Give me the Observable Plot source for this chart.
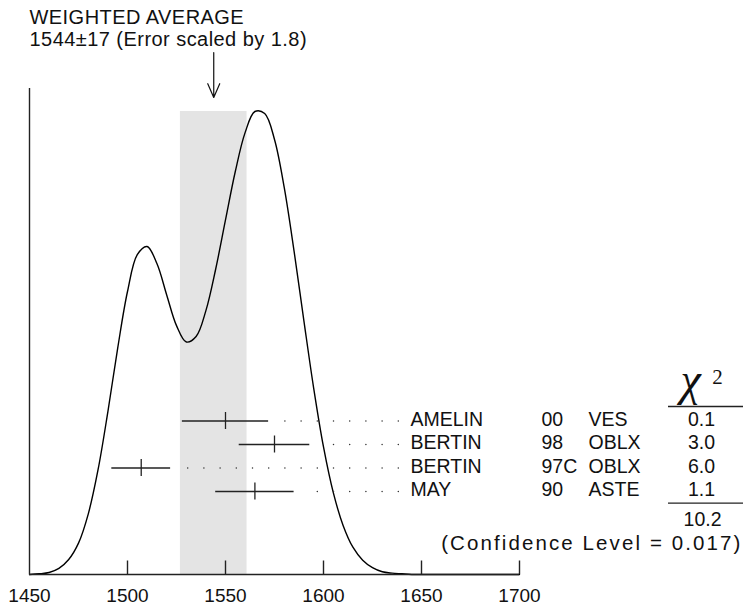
<!DOCTYPE html>
<html><head><meta charset="utf-8">
<script src="https://cdn.jsdelivr.net/npm/d3@7"></script>
<script src="https://cdn.jsdelivr.net/npm/@observablehq/plot@0.6"></script>
<style>
body{margin:0;background:#fff;}
#chart svg{display:block}
.conf text{letter-spacing:2.1px}
.ttl text{letter-spacing:0.45px}
</style></head><body><div id="chart"></div>
<script>
// ---------- data ----------
const authors = ["AMELIN", "BERTIN", "BERTIN", "MAY"];
const years = ["00", "98", "97C", "90"];
const techniques = ["VES", "OBLX", "OBLX", "ASTE"];
const values = [1550, 1575, 1507, 1565];
const errors = [22, 18, 15, 20];
const chi2 = ["0.1", "3.0", "6.0", "1.1"];
const chi2Total = "10.2";
const confidence = "(Confidence Level = 0.017)";
const average = 1544, averageError = 17;
const title = "WEIGHTED AVERAGE";
const subtitle = "1544\u00b117 (Error scaled by 1.8)";
const ticks = [1450, 1500, 1550, 1600, 1650, 1700];
// ideogram curve
const ideoX = [1450,1455,1460,1465,1470,1475,1480,1485,1490,1495,1500,1505,1510,1515,1520,1525,1530,1535,1540,1545,1550,1555,1560,1565,1570,1575,1580,1585,1590,1595,1600,1605,1610,1615,1620,1625,1630,1635,1640,1645,1650,1655,1660,1665,1670,1675,1680,1685,1690,1695,1700];
const ideoY = [0.00,0.01,0.03,0.09,0.22,0.46,0.89,1.54,2.39,3.32,4.15,4.69,4.81,4.56,4.10,3.65,3.41,3.49,3.87,4.48,5.20,5.91,6.48,6.79,6.76,6.38,5.67,4.74,3.72,2.73,1.87,1.20,0.72,0.40,0.21,0.10,0.04,0.02,0.01,0.00,0,0,0,0,0,0,0,0,0,0,0];

// ---------- layout ----------
const W = 743, H = 609, mL = 29, mR = 224, mT = 111, mB = 35;
const x0 = 1450, x1 = 1700;
const ymax = d3.max(ideoY);
const pxX = p => x0 + (p - mL) * (x1 - x0) / (W - mL - mR);
const pxY = p => ymax * (H - mB - p) / (H - mB - mT);
const unitsPerPx = (x1 - x0) / (W - mL - mR);
const rowPx = i => 420.5 + 23.5 * i;
const font = "Liberation Sans, Arial, Helvetica, sans-serif";
const serif = "Liberation Serif, Times New Roman, serif";

const curve = ideoX.map((x, i) => ({x, y: ideoY[i]}));
const rows = authors.map((a, i) => ({
  i, author: a, year: years[i], tech: techniques[i], chi: chi2[i],
  v: values[i], lo: values[i] - errors[i], hi: values[i] + errors[i]
}));
const one = [0];

const chart = Plot.plot({
  width: W, height: H,
  marginLeft: mL, marginRight: mR, marginTop: mT, marginBottom: mB,
  x: {domain: [x0, x1], axis: null},
  y: {domain: [0, ymax], axis: null},
  style: {fontFamily: font, fontSize: "19.5px", color: "#111", background: "#fff"},
  marks: [
    // weighted average band
    Plot.rect(one, {x1: () => average - averageError, x2: () => average + averageError,
      y1: () => 0, y2: () => ymax, fill: "#e4e4e4"}),
    // ideogram
    Plot.line(curve, {x: "x", y: "y", curve: "catmull-rom", stroke: "#000", strokeWidth: 1.4}),
    // axes
    Plot.ruleY([0], {stroke: "#222", strokeWidth: 1.4}),
    Plot.ruleX([x0], {y1: () => 0, y2: () => pxY(88), stroke: "#222", strokeWidth: 1.4}),
    Plot.ruleX(ticks.slice(1), {y1: () => 0, y2: () => pxY(560.5), stroke: "#222", strokeWidth: 1.4}),
    Plot.axisX({ticks, tickSize: 0, tickPadding: 14, tickFormat: d => String(d),
      fontSize: 19, fontFamily: font}),
    // leaders
    Plot.ruleY(rows, {y: d => pxY(rowPx(d.i)), x1: () => pxX(398.3), x2: d => d.hi + 10 * unitsPerPx,
      stroke: "#333", strokeWidth: 1.5, strokeDasharray: "0 16.2", strokeLinecap: "round"}),
    // error bars
    Plot.ruleY(rows, {y: d => pxY(rowPx(d.i)), x1: "lo", x2: "hi", stroke: "#222", strokeWidth: 1.3}),
    Plot.ruleX(rows, {x: "v", y1: d => pxY(rowPx(d.i) - 8.5), y2: d => pxY(rowPx(d.i) + 8.5),
      stroke: "#222", strokeWidth: 1.3}),
    // row labels
    Plot.text(rows, {x: () => pxX(410), y: d => pxY(rowPx(d.i) + 4.5), text: "author",
      textAnchor: "start", lineAnchor: "bottom", fontSize: 19.5}),
    Plot.text(rows, {x: () => pxX(541), y: d => pxY(rowPx(d.i) + 4.5), text: "year",
      textAnchor: "start", lineAnchor: "bottom", fontSize: 19.5}),
    Plot.text(rows, {x: () => pxX(588), y: d => pxY(rowPx(d.i) + 4.5), text: "tech",
      textAnchor: "start", lineAnchor: "bottom", fontSize: 19.5}),
    Plot.text(rows, {x: () => pxX(701), y: d => pxY(rowPx(d.i) + 4.5), text: "chi",
      textAnchor: "middle", lineAnchor: "bottom", fontSize: 19.5}),
    // chi2 header and rules
    Plot.text(one, {x: () => pxX(690), y: () => pxY(394), text: () => "\u03c7",
      fontFamily: serif, fontStyle: "italic", fontSize: 46, lineAnchor: "bottom", textAnchor: "middle"}),
    Plot.text(one, {x: () => pxX(717), y: () => pxY(383), text: () => "2",
      fontFamily: serif, fontSize: 21, lineAnchor: "bottom", textAnchor: "middle"}),
    Plot.ruleY([pxY(406), pxY(502.7)], {x1: () => pxX(668), x2: () => pxX(743), stroke: "#222", strokeWidth: 1.3}),
    Plot.text(one, {x: () => pxX(702), y: () => pxY(525), text: () => chi2Total,
      textAnchor: "middle", lineAnchor: "bottom", fontSize: 19.5}),
    Plot.text(one, {x: () => pxX(742), y: () => pxY(549), text: () => confidence,
      textAnchor: "end", lineAnchor: "bottom", fontSize: 20.5, className: "conf"}),
    // title
    Plot.text(one, {x: () => x0, y: () => pxY(23.3), text: () => title,
      textAnchor: "start", lineAnchor: "bottom", fontSize: 20, className: "ttl"}),
    Plot.text(one, {x: () => x0, y: () => pxY(45), text: () => subtitle,
      textAnchor: "start", lineAnchor: "bottom", fontSize: 20, className: "ttl"}),
    // arrow
    Plot.arrow(one, {x1: () => average, x2: () => average, y1: () => pxY(52), y2: () => pxY(97),
      headLength: 30, headAngle: 47, strokeWidth: 1.2, stroke: "#111"})
  ]
});
document.getElementById("chart").appendChild(chart);
</script>
</body></html>
